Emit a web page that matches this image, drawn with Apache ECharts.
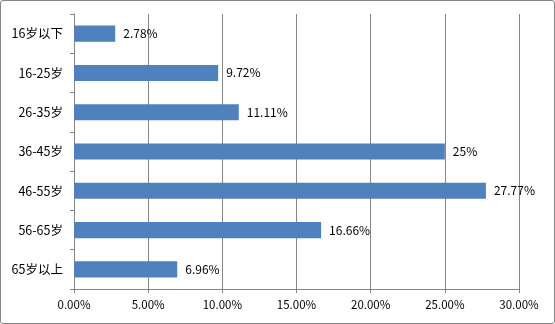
<!DOCTYPE html>
<html><head><meta charset="utf-8">
<script src="https://cdn.jsdelivr.net/npm/echarts@6/dist/echarts.min.js"></script>
<style>html,body{margin:0;padding:0;background:#fff}#c{width:555px;height:324px;box-sizing:border-box;border:1px solid #868686;border-radius:3px}</style>
</head><body><div id="c"></div>
<script>
var categories = ['16岁以下','16-25岁','26-35岁','36-45岁','46-55岁','56-65岁','65岁以上'];
var values = [2.78, 9.72, 11.11, 25, 27.77, 16.66, 6.96];
var valueLabels = ['2.78%','9.72%','11.11%','25%','27.77%','16.66%','6.96%'];
var xTicks = {min:0, max:30, interval:5};

var chart = echarts.init(document.getElementById('c'), null, {renderer:'canvas'});
var font = '"Noto Sans CJK SC", "Liberation Sans", sans-serif';
chart.setOption({
  animation:false,
  grid:{left:73, right:35, top:13, bottom:34},
  xAxis:{type:'value', min:xTicks.min, max:xTicks.max, interval:xTicks.interval,
    axisLine:{show:true, lineStyle:{color:'#868686'}},
    axisTick:{show:true, length:4, lineStyle:{color:'#868686'}},
    splitLine:{show:true, lineStyle:{color:'#868686'}},
    axisLabel:{formatter:function(v){return v.toFixed(2)+'%';}, color:'#000', fontSize:11.5, fontFamily:font, margin:10}
  },
  yAxis:{type:'category', data:categories, inverse:true,
    axisLine:{show:true, lineStyle:{color:'#868686'}},
    axisTick:{show:true, length:4, lineStyle:{color:'#868686'}},
    axisLabel:{color:'#000', fontSize:12.5, fontFamily:font, margin:11}
  },
  series:[{type:'bar', data:values, barWidth:'41%', itemStyle:{color:'#4F81BD'},
    label:{show:true, position:'right', distance:8, color:'#000', fontSize:12, fontFamily:font,
      formatter:function(p){return valueLabels[p.dataIndex];}}}]
});
</script></body></html>
